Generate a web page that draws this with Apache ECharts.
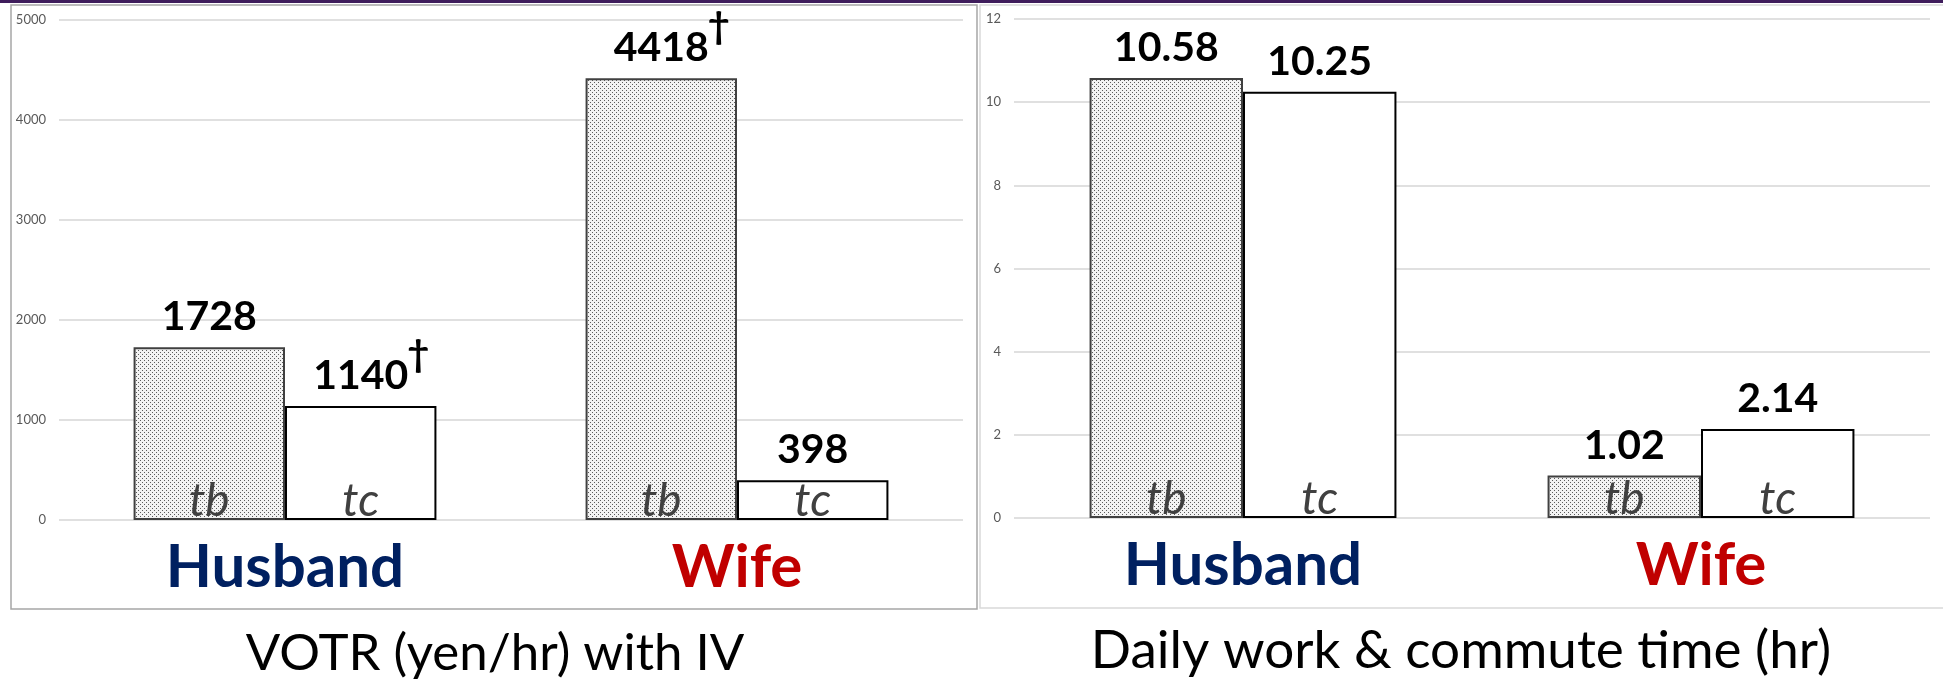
<!DOCTYPE html>
<html>
<head>
<meta charset="utf-8">
<script src="https://cdn.jsdelivr.net/npm/echarts@6/dist/echarts.min.js"></script>
<style>
  html, body { margin: 0; padding: 0; background: #fff; }
  #main { width: 1943px; height: 682px; }
</style>
</head>
<body>
<div id="main"></div>
<script>
// data
var people = ['Husband', 'Wife'];
var peopleColors = ['#002060', '#C00000'];
var barNames = ['tb', 'tc'];

var votrTb = [1728, 4418];
var votrTc = [1140, 398];
var votrTbDagger = [false, true];
var votrTcDagger = [true, false];
var votrTicks = [0, 1000, 2000, 3000, 4000, 5000];

var timeTb = [10.58, 1.02];
var timeTc = [10.25, 2.14];
var timeTicks = [0, 2, 4, 6, 8, 10, 12];

var chartTitles = ['VOTR (yen/hr) with IV', 'Daily work & commute time (hr)'];

// dotted fill for the tb bars
var pc = document.createElement('canvas');
pc.width = 4; pc.height = 4;
var pctx = pc.getContext('2d');
pctx.fillStyle = '#f3f3f3';
pctx.fillRect(0, 0, 4, 4);
pctx.fillStyle = '#5c5c5c';
pctx.fillRect(0, 0, 1, 1);
pctx.fillRect(2, 2, 1, 1);

var FONT = 'Lato, "Open Sans", sans-serif';

var valueRich = {
    v: { fontFamily: FONT, fontWeight: 'bold', fontSize: 41, lineHeight: 80, color: '#000' },
    s: { fontFamily: FONT, fontWeight: 'bold', fontSize: 38, lineHeight: 34, verticalAlign: 'top', width: 20, align: 'left', color: '#000' },
    g: { fontSize: 30, width: 20 }
};

function valueLabel(daggers, digits) {
    return {
        show: true,
        position: 'top',
        distance: -10,
        formatter: function (p) {
            var txt = digits ? p.value.toFixed(digits) : String(p.value);
            if (daggers && daggers[p.dataIndex]) {
                return '{g| }{v|' + txt + '}{s|\u2020}';
            }
            return '{v|' + txt + '}';
        },
        rich: valueRich
    };
}

function nameLabel(txt) {
    return {
        show: true,
        position: 'insideBottom',
        distance: -4,
        formatter: txt,
        fontFamily: FONT,
        fontStyle: 'italic',
        fontSize: 46,
        lineHeight: 46,
        color: '#404040'
    };
}

function catAxis(gridIndex, show) {
    return {
        type: 'category',
        gridIndex: gridIndex,
        data: people,
        show: show,
        axisLine: { show: false },
        axisTick: { show: false },
        axisLabel: {
            margin: 18,
            fontFamily: FONT,
            fontWeight: 'bold',
            fontSize: 60,
            lineHeight: 60,
            color: function (v, i) { return peopleColors[i]; }
        }
    };
}

function valAxis(gridIndex, ticks) {
    return {
        type: 'value',
        gridIndex: gridIndex,
        min: ticks[0],
        max: ticks[ticks.length - 1],
        interval: ticks[1] - ticks[0],
        axisLine: { show: false },
        axisTick: { show: false },
        axisLabel: {
            margin: 13, fontFamily: FONT, fontSize: 13, color: '#595959',
            formatter: function (v) { return String(v); }
        },
        splitLine: { lineStyle: { color: '#e0e0e0', width: 2 } }
    };
}

function bars(xi, yi, data, fill, border, label) {
    return {
        type: 'bar',
        xAxisIndex: xi,
        yAxisIndex: yi,
        data: data,
        barGap: 0,
        barCategoryGap: '33%',
        itemStyle: { color: fill, borderColor: border, borderWidth: 2 },
        label: label,
        silent: true
    };
}

function overlay(xi, yi, data, txt) {
    return {
        type: 'bar',
        xAxisIndex: xi,
        yAxisIndex: yi,
        data: data,
        barGap: 0,
        barCategoryGap: '33%',
        itemStyle: { color: 'rgba(0,0,0,0)' },
        label: nameLabel(txt),
        silent: true,
        z: 5
    };
}

var pattern = { image: pc, repeat: 'repeat' };

var chart = echarts.init(document.getElementById('main'));
var option = {
    animation: false,
    backgroundColor: '#fff',
    title: [
        { text: chartTitles[0], left: 495, top: 628, textAlign: 'center', padding: 0,
          textStyle: { fontFamily: FONT, fontWeight: 'normal', fontSize: 51, color: '#000' } },
        { text: chartTitles[1], left: 1461, top: 624, textAlign: 'center', padding: 0,
          textStyle: { fontFamily: FONT, fontWeight: 'normal', fontSize: 53, color: '#000' } }
    ],
    graphic: [
        { type: 'rect', shape: { x: 0, y: 0, width: 1943, height: 3 }, style: { fill: '#3f1d5c' }, silent: true },
        { type: 'rect', shape: { x: 11, y: 5, width: 966, height: 604 }, style: { fill: 'none', stroke: '#a6a6a6', lineWidth: 1.5 }, silent: true },
        { type: 'rect', shape: { x: 980, y: 5, width: 980, height: 603 }, style: { fill: 'none', stroke: '#d9d9d9', lineWidth: 1.5 }, silent: true }
    ],
    grid: [
        { left: 59, right: 980, top: 20, bottom: 162 },
        { left: 1014, right: 13, top: 19, bottom: 164 }
    ],
    xAxis: [
        catAxis(0, true),
        catAxis(0, false),
        catAxis(1, true),
        catAxis(1, false)
    ],
    yAxis: [
        valAxis(0, votrTicks),
        valAxis(1, timeTicks)
    ],
    series: [
        bars(0, 0, votrTb, pattern, '#404040', valueLabel(votrTbDagger, 0)),
        bars(0, 0, votrTc, '#ffffff', '#000000', valueLabel(votrTcDagger, 0)),
        overlay(1, 0, votrTb, barNames[0]),
        overlay(1, 0, votrTc, barNames[1]),
        bars(2, 1, timeTb, pattern, '#404040', valueLabel(null, 2)),
        bars(2, 1, timeTc, '#ffffff', '#000000', valueLabel(null, 2)),
        overlay(3, 1, timeTb, barNames[0]),
        overlay(3, 1, timeTc, barNames[1])
    ]
};
chart.setOption(option);
</script>
</body>
</html>
